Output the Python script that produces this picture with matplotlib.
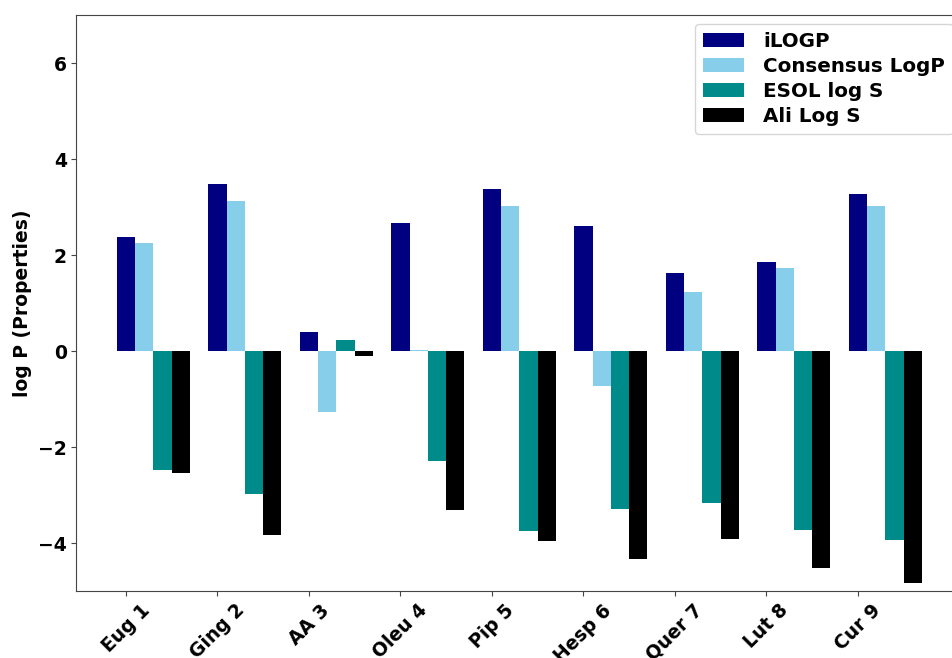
import numpy as np
import matplotlib.pyplot as plt

compounds = ['Eug 1', 'Ging 2', 'AA 3', 'Oleu 4', 'Pip 5', 'Hesp 6', 'Quer 7', 'Lut 8', 'Cur 9']
ilogp = [2.37, 3.48, 0.39, 2.66, 3.38, 2.60, 1.63, 1.86, 3.28]
consensus = [2.25, 3.13, -1.28, 0.02, 3.03, -0.72, 1.23, 1.73, 3.03]
esol = [-2.47, -2.97, 0.23, -2.30, -3.74, -3.29, -3.16, -3.72, -3.94]
ali = [-2.54, -3.83, -0.10, -3.32, -3.96, -4.34, -3.92, -4.52, -4.84]

x = np.arange(len(compounds))
w = 0.2
fs = 13.5

fig = plt.figure(figsize=(9.52, 6.58), dpi=100)
ax = fig.add_axes([0.0803, 0.1018, 0.9304, 0.8754])

ax.bar(x, ilogp, w, color='navy', label='iLOGP')
ax.bar(x + w, consensus, w, color='skyblue', label='Consensus LogP')
ax.bar(x + 2*w, esol, w, color='darkcyan', label='ESOL log S')
ax.bar(x + 3*w, ali, w, color='black', label='Ali Log S')

ax.set_ylim(-5, 7)
ax.set_xticks(x)
ax.set_xticklabels(compounds, rotation=45, fontsize=fs, fontweight='bold')
plt.yticks(fontsize=fs, fontweight='bold')
ax.set_ylabel('log P (Properties)', fontsize=fs, fontweight='bold')

for s in ax.spines.values():
    s.set_color('#444444')
ax.tick_params(color='#444444')

ax.legend(loc='upper right', prop={'size': 14.3, 'weight': 'bold'},
          handlelength=2.06, handletextpad=1.0, labelspacing=0.31,
          borderaxespad=0.45)

fig.savefig('out.png', dpi=100)
